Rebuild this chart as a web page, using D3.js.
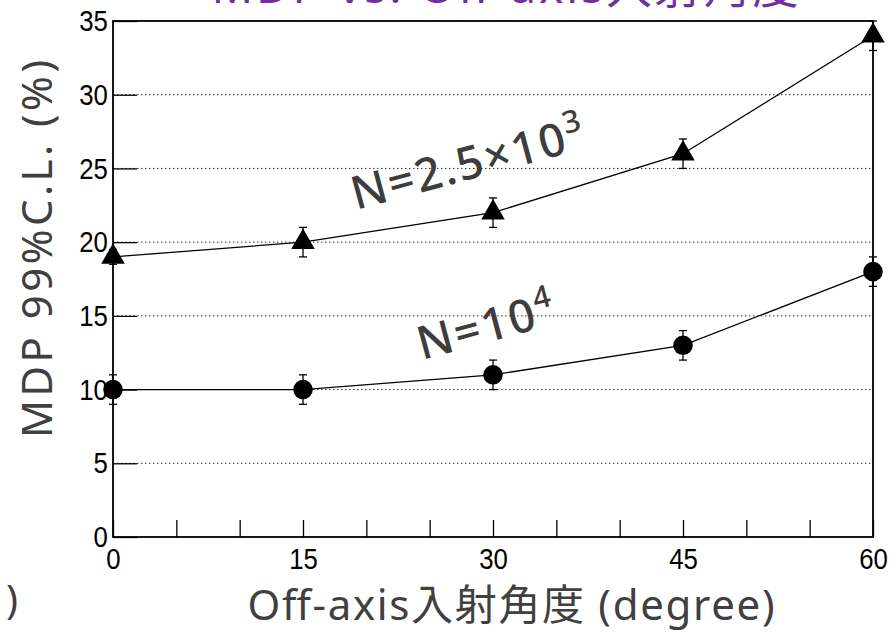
<!DOCTYPE html>
<html>
<head>
<meta charset="utf-8">
<script src="https://cdn.jsdelivr.net/npm/d3@7"></script>
<style>
  body { margin: 0; background: #fff; }
  svg { display: block; }
</style>
</head>
<body>
<div id="chart"></div>
<script>
// angles (degree)
let angles = [0, 15, 30, 45, 60];
// N = 2.5x10^3 (triangles)
let mdpLow = [19, 20, 22, 26, 34];
let errLow = [0.5, 1, 1, 1, 1];
// N = 10^4 (circles)
let mdpHigh = [10, 10, 11, 13, 18];
let errHigh = [1, 1, 1, 1, 1];

let xTickLabels = [0, 15, 30, 45, 60];
let yTickLabels = [0, 5, 10, 15, 20, 25, 30, 35];

let svgWidth = 889;
let svgHeight = 633;
let margin = { top: 21, right: 16, bottom: 96, left: 113 };
let width = svgWidth - margin.left - margin.right;
let height = svgHeight - margin.top - margin.bottom;

let svg = d3.select("#chart")
  .append("svg")
  .attr("width", svgWidth)
  .attr("height", svgHeight);

let chart = svg.append("g")
  .attr("transform", `translate(${margin.left}, ${margin.top})`);

let xScale = d3.scaleLinear().domain([0, 60]).range([0, width]);
let yScale = d3.scaleLinear().domain([0, 35]).range([height, 0]);

// dotted grid
chart.selectAll(".grid")
  .data(yTickLabels.filter(d => d > 0 && d < 35))
  .enter()
  .append("line")
  .attr("x1", 0)
  .attr("x2", width)
  .attr("y1", d => yScale(d))
  .attr("y2", d => yScale(d))
  .attr("stroke", "#333")
  .attr("stroke-width", 1)
  .attr("stroke-dasharray", "1.5,2.5");

// axes (ticks inward like ROOT)
let xAxis = d3.axisBottom(xScale)
  .tickValues(d3.range(0, 61, 5))
  .tickSize(-17)
  .tickFormat(d => xTickLabels.includes(d) ? d : "");

let yAxis = d3.axisLeft(yScale)
  .tickValues(yTickLabels)
  .tickSize(-24)
  .tickFormat(d => d);

let tickFont = "Liberation Sans, Arial, sans-serif";

let gx = chart.append("g")
  .attr("transform", `translate(0, ${height})`)
  .call(xAxis);
gx.select(".domain").remove();
gx.selectAll(".tick line").attr("stroke", "#000").attr("stroke-width", 1.3);
gx.selectAll(".tick text")
  .attr("y", 11)
  .attr("transform", "scale(0.86, 1)")
  .attr("font-family", tickFont)
  .attr("font-size", 30)
  .attr("fill", "#000");

let gy = chart.append("g").call(yAxis);
gy.select(".domain").remove();
gy.selectAll(".tick line").attr("stroke", "#000").attr("stroke-width", 1.3);
gy.selectAll(".tick text")
  .attr("x", -6)
  .attr("transform", "scale(0.86, 1)")
  .attr("font-family", tickFont)
  .attr("font-size", 30)
  .attr("fill", "#000");

// frame
chart.append("rect")
  .attr("x", 0).attr("y", 0)
  .attr("width", width).attr("height", height)
  .attr("fill", "none")
  .attr("stroke", "#000")
  .attr("stroke-width", 1.8);

let lineGen = d3.line()
  .x(d => xScale(d[0]))
  .y(d => yScale(d[1]));

function drawSeries(values, errs, shape) {
  let pts = angles.map((a, i) => [a, values[i], errs[i]]);

  chart.append("path")
    .datum(pts)
    .attr("d", lineGen)
    .attr("fill", "none")
    .attr("stroke", "#000")
    .attr("stroke-width", 1.3);

  let eb = chart.append("g");
  pts.forEach(p => {
    let x = xScale(p[0]);
    eb.append("line")
      .attr("x1", x).attr("x2", x)
      .attr("y1", yScale(p[1] - p[2])).attr("y2", yScale(p[1] + p[2]))
      .attr("stroke", "#000").attr("stroke-width", 1.3);
    [p[1] - p[2], p[1] + p[2]].forEach(v => {
      eb.append("line")
        .attr("x1", x - 4).attr("x2", x + 4)
        .attr("y1", yScale(v)).attr("y2", yScale(v))
        .attr("stroke", "#000").attr("stroke-width", 1.3);
    });
  });

  chart.selectAll(null)
    .data(pts)
    .enter()
    .append("path")
    .attr("transform", d => `translate(${xScale(d[0])}, ${yScale(d[1])})`)
    .attr("d", d3.symbol().type(shape).size(shape === d3.symbolCircle ? 300 : 240))
    .attr("fill", "#000");
}

drawSeries(mdpLow, errLow, d3.symbolTriangle);
drawSeries(mdpHigh, errHigh, d3.symbolCircle);

// annotations
let annFont = "'Noto Sans', 'Noto Sans CJK JP', sans-serif";

let ann1 = svg.append("text")
  .attr("transform", "translate(356, 210) rotate(-15)")
  .attr("font-family", annFont)
  .attr("font-size", 46)
  .attr("font-weight", 500)
  .attr("letter-spacing", 2)
  .attr("fill", "#3d3d3d");
ann1.append("tspan").text("N=2.5×10");
ann1.append("tspan").attr("dy", -19).attr("font-size", 31).text("3");

let ann2 = svg.append("text")
  .attr("transform", "translate(422, 360) rotate(-15)")
  .attr("font-family", annFont)
  .attr("font-size", 46)
  .attr("font-weight", 500)
  .attr("letter-spacing", 2)
  .attr("fill", "#3d3d3d");
ann2.append("tspan").text("N=10");
ann2.append("tspan").attr("dy", -19).attr("font-size", 31).text("4");

// axis titles
svg.append("text")
  .attr("x", 511)
  .attr("y", 620)
  .attr("text-anchor", "middle")
  .attr("font-family", annFont)
  .attr("font-size", 42)
  .attr("textLength", 527)
  .attr("lengthAdjust", "spacing")
  .attr("fill", "#404040")
  .text("Off-axis入射角度 (degree)");

svg.append("text")
  .attr("transform", "translate(52, 249) rotate(-90)")
  .attr("text-anchor", "middle")
  .attr("font-family", annFont)
  .attr("font-size", 42)
  .attr("textLength", 378)
  .attr("lengthAdjust", "spacing")
  .attr("fill", "#404040")
  .text("MDP 99%C.L. (%)");

// title, cut off at the top edge
svg.append("text")
  .attr("x", 505)
  .attr("y", 3)
  .attr("text-anchor", "middle")
  .attr("font-family", annFont)
  .attr("font-size", 46)
  .attr("textLength", 587)
  .attr("lengthAdjust", "spacing")
  .attr("fill", "#7030a0")
  .text("MDP vs. Off-axis入射角度");

// stray bracket from neighbouring text
svg.append("text")
  .attr("x", 6)
  .attr("y", 614)
  .attr("font-family", annFont)
  .attr("font-size", 40)
  .attr("fill", "#404040")
  .text(")");
</script>
</body>
</html>
